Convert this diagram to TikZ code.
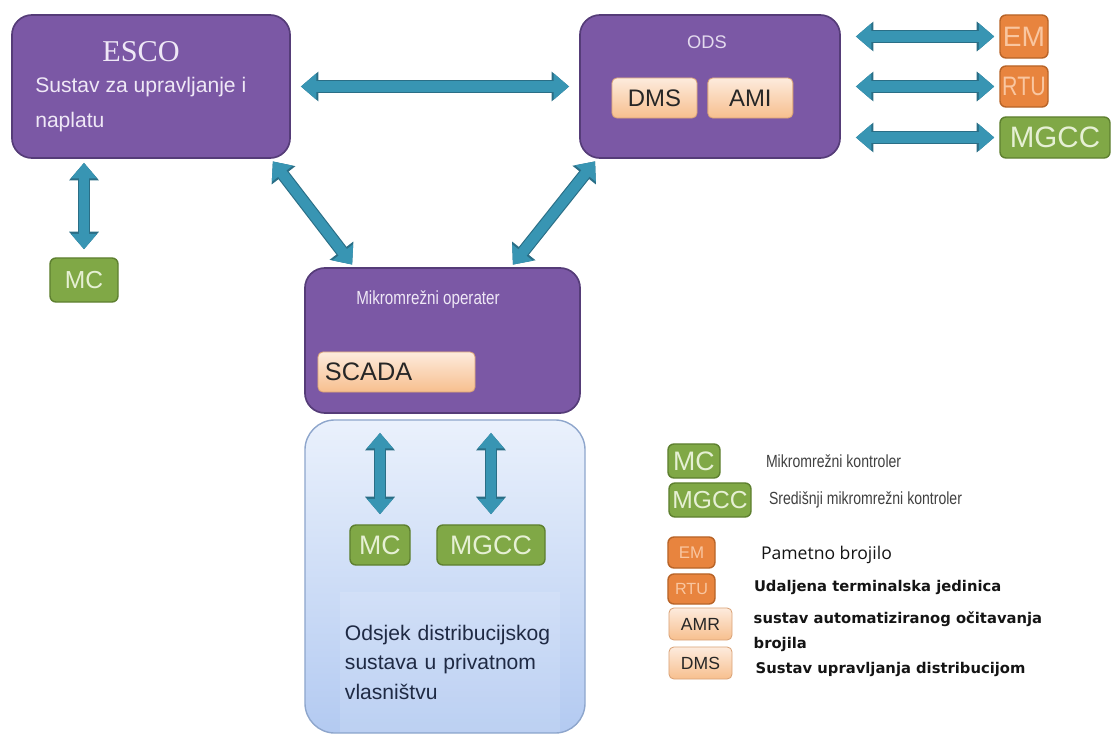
\documentclass[tikz,border=0pt]{standalone}
\usepackage{fontspec}
\setmainfont{Liberation Sans}
\newfontfamily\escofont{Liberation Serif}
\newfontfamily\narrowfont[FakeStretch=0.8]{Liberation Sans}
\newfontfamily\calfont{Open Sans}
\newfontfamily\verdfont{DejaVu Sans}
\usetikzlibrary{positioning}
\usetikzlibrary{arrows.meta}
\definecolor{opurple}{HTML}{7B58A5}
\definecolor{opurpledark}{HTML}{553C78}
\definecolor{opurpletext}{HTML}{EFE8F6}
\definecolor{ogreen}{HTML}{80A846}
\definecolor{ogreendark}{HTML}{5E8030}
\definecolor{ogreentext}{HTML}{E6F0D4}
\definecolor{oorange}{HTML}{E8843E}
\definecolor{oorangedark}{HTML}{B86428}
\definecolor{oorangetext}{HTML}{F9C6A0}
\definecolor{peachtop}{HTML}{FDEBDD}
\definecolor{peachbot}{HTML}{F7BF8E}
\definecolor{peachdark}{HTML}{D9A277}
\definecolor{linkteal}{HTML}{3895B3}
\definecolor{linkdark}{HTML}{2A6E86}
\definecolor{bluetop}{HTML}{EAF1FC}
\definecolor{bluebot}{HTML}{B3CAF1}
\definecolor{blueedge}{HTML}{8EA6CC}
\definecolor{textnavy}{HTML}{1F2A44}
\tikzstyle{operator} = [rectangle, rounded corners=0.5cm, fill=opurple, draw=opurpledark, line width=1.2pt, minimum width=6.95cm, minimum height=3.575cm]
\tikzstyle{ctrl} = [rectangle, rounded corners=0.15cm, fill=ogreen, draw=ogreendark, line width=1pt, text=ogreentext, inner sep=1pt, font=\fontsize{19}{19}\selectfont]
\tikzstyle{meter} = [ctrl, fill=oorange, draw=oorangedark, text=oorangetext]
\tikzstyle{module} = [rectangle, rounded corners=0.12cm, top color=peachtop, bottom color=peachbot, draw=peachdark, line width=0.6pt, text=black!85, font=\fontsize{17}{17}\selectfont, minimum height=1cm]
\tikzstyle{link} = [{Triangle[length=11pt,width=18pt]}-{Triangle[length=11pt,width=18pt]}, draw=linkteal, line width=7.4pt, preaction={draw=linkdark, line width=9pt, {Triangle[length=12.5pt,width=20.5pt]}-{Triangle[length=12.5pt,width=20.5pt]}}]
\tikzstyle{note} = [inner sep=0pt, text=black!92]

\begin{document}
\begin{tikzpicture}[x=0.025cm, y=-0.025cm]
\useasboundingbox (0,0) rectangle (1114,736);
%\draw [help lines, step=50] (0,0) grid (1114,736);

% Define nodes
\node[operator]                                   (esco)   at (151,86.5) {};
\node[font=\escofont\fontsize{21.5}{21.5}\selectfont, text=opurpletext] (escot) at (141,52) {ESCO};
\node[anchor=north west, align=left, inner sep=0pt, text=opurpletext, font=\fontsize{15}{24.8}\selectfont] (escod) at (35,77) {Sustav za upravljanje i\\naplatu};

\node[operator, minimum width=6.5cm]              (ods)    at (710,86.5) {};
\node[font=\fontsize{13}{13}\selectfont, text=opurpletext!90!opurple] (odst) at (707,42) {ODS};
\node[module, minimum width=2.125cm]              (dms)    at (654.5,98) {DMS};
\node[module, minimum width=2.125cm, right = 0.25cm of dms] (ami) {AMI};

\node[meter, minimum width=1.2cm, minimum height=1.075cm, font=\fontsize{20}{20}\selectfont] (em) at (1024,36.5) {EM};
\node[meter, minimum width=1.2cm, minimum height=1.025cm, font=\narrowfont\fontsize{19}{19}\selectfont] (rtu) at (1024,86.5) {RTU};
\node[ctrl, minimum width=2.75cm, minimum height=1.025cm, font=\fontsize{21}{21}\selectfont] (mgcc) at (1055,137.5) {MGCC};

\node[ctrl, minimum width=1.7cm, minimum height=1.1cm, font=\fontsize{17.5}{17.5}\selectfont] (mc) at (84,280) {MC};

\node[operator, minimum width=6.875cm, minimum height=3.625cm] (mikro) at (442.5,340.5) {};
\node[font=\narrowfont\fontsize{13.5}{13.5}\selectfont, text=opurpletext] (mikrot) at (428,300) {Mikromrežni operater};
\node[module, minimum width=3.925cm, text width=3.575cm, inner xsep=0.175cm, align=left, font=\fontsize{18}{18}\selectfont] (scada) at (396.5,372) {SCADA};

\node[rectangle, rounded corners=0.75cm, top color=bluetop, bottom color=bluebot, draw=blueedge, line width=1pt, minimum width=7cm, minimum height=7.825cm] (private) at (445,576.5) {};
\node[ctrl, minimum width=1.5cm, minimum height=1cm]  (mcp)   at (380,545) {MC};
\node[ctrl, minimum width=2.7cm, minimum height=1cm]  (mgccp) at (491,545) {MGCC};
\node[rectangle, fill=white, fill opacity=0.12, text opacity=1, minimum width=5.5cm, minimum height=3.5cm, text width=5.25cm, inner xsep=0.125cm, align=left, text=textnavy, font=\fontsize{15}{21}\selectfont] (privt) at (450,662) {Odsjek distribucijskog\\sustava u privatnom\\vlasništvu};

% Legend
\node[ctrl, minimum width=1.3cm, minimum height=0.85cm]                                         (mcl)   at (694,461)   {MC};
\node[ctrl, minimum width=2.05cm, minimum height=0.85cm, font=\fontsize{17.5}{17.5}\selectfont] (mgccl) at (710,500)   {MGCC};
\node[meter, minimum width=1.175cm, minimum height=0.775cm, font=\fontsize{12}{12}\selectfont] (eml)   at (691.5,552.5) {EM};
\node[meter, minimum width=1.175cm, minimum height=0.75cm, font=\fontsize{11.5}{11.5}\selectfont] (rtul) at (691.5,589) {RTU};
\node[module, minimum width=1.575cm, minimum height=0.8cm, font=\fontsize{12.5}{12.5}\selectfont] (amrl) at (700.5,624) {AMR};
\node[module, minimum width=1.575cm, minimum height=0.8cm, font=\fontsize{12.5}{12.5}\selectfont] (dmsl) at (700.5,663) {DMS};

\node[note, right = 1.125cm of mcl, text=black!75, font=\narrowfont\fontsize{12.5}{12.5}\selectfont]  (mcn)   {Mikromrežni kontroler};
\node[note, right = 0.425cm of mgccl, text=black!75, font=\narrowfont\fontsize{12.5}{12.5}\selectfont] (mgccn) {Središnji mikromrežni kontroler};
\node[note, right = 1.125cm of eml, yshift=-0.06cm, font=\calfont\fontsize{12.5}{12.5}\selectfont] (emn) {Pametno brojilo};
\node[note, right = 0.95cm of rtul, yshift=0.05cm, font=\verdfont\bfseries\fontsize{10.5}{10.5}\selectfont] (rtun) {Udaljena terminalska jedinica};
\node[note, right = 0.525cm of amrl, yshift=-0.19cm, align=left, font=\verdfont\bfseries\fontsize{10.5}{17.7}\selectfont] (amrn) {sustav automatiziranog očitavanja\\brojila};
\node[note, right = 0.575cm of dmsl, yshift=-0.17cm, font=\verdfont\bfseries\fontsize{10.5}{10.5}\selectfont] (dmsn) {Sustav upravljanja distribucijom};

% Edges
\draw[link, shorten <=0.25cm, shorten >=0.25cm] (esco) -- (ods);
\draw[link, shorten <=0.1cm, shorten >=0.2cm]   (esco.south -| mc) -- (mc);
\draw[link, shorten <=0.08cm, shorten >=0.08cm] ([xshift=-0.5cm]esco.south east) -- ([xshift=1.25cm]mikro.north west);
\draw[link, shorten <=0.08cm, shorten >=0.08cm] ([xshift=0.45cm]ods.south west) -- ([xshift=-1.75cm]mikro.north east);
\draw[link, shorten <=0.375cm, shorten >=0.125cm] (ods.east |- em) -- (em);
\draw[link, shorten <=0.375cm, shorten >=0.125cm] (ods.east |- rtu) -- (rtu);
\draw[link, shorten <=0.375cm, shorten >=0.125cm] (ods.east |- mgcc) -- (mgcc);
\draw[link, shorten <=0.475cm, shorten >=0.25cm] (mikro.south -| mcp) -- (mcp);
\draw[link, shorten <=0.475cm, shorten >=0.25cm] (mikro.south -| mgccp) -- (mgccp);

\end{tikzpicture}
\end{document}
